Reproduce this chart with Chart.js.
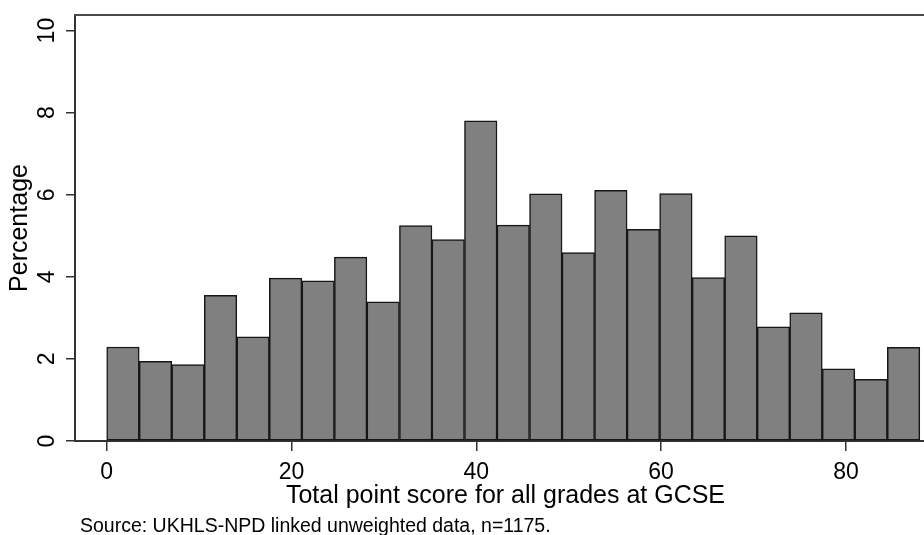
<!DOCTYPE html>
<html>
<head>
<meta charset="utf-8">
<script src="https://cdn.jsdelivr.net/npm/chart.js@4"></script>
<style>
  html, body { margin: 0; padding: 0; background: #fff; overflow: hidden; }
  #wrap { width: 924px; height: 535px; }
</style>
</head>
<body>
<div id="wrap"><canvas id="hist" width="924" height="535"></canvas></div>
<script>
// GCSE total point score distribution, 25 equal-width bins starting at 0
const binStart = 0;
const binWidth = 3.52;
const percentages = [2.29, 1.94, 1.86, 3.55, 2.54, 3.97, 3.90, 4.48, 3.39, 5.25,
                     4.91, 7.80, 5.26, 6.02, 4.59, 6.11, 5.16, 6.03, 3.98, 5.00,
                     2.78, 3.12, 1.76, 1.50, 2.28];
const xTicks = [0, 20, 40, 60, 80];
const yTicks = [0, 2, 4, 6, 8, 10];
const xTitle = 'Total point score for all grades at GCSE';
const yTitle = 'Percentage';
const sourceNote = 'Source: UKHLS-NPD linked unweighted data, n=1175.';

const FONT = 'Liberation Sans, Arial, sans-serif';
const AXIS = '#333';

// bars sit on bin centres of a linear x scale
const points = percentages.map((v, i) => ({ x: binStart + binWidth * (i + 0.5), y: v }));

// frame line along the top, rotated y labels, titles and the note
const decorations = {
  id: 'decorations',
  afterDraw(chart) {
    const ctx = chart.ctx;
    const area = chart.chartArea;
    const y = chart.scales.y;
    ctx.save();

    ctx.strokeStyle = '#4a4a4a';
    ctx.lineWidth = 2;
    ctx.beginPath();
    ctx.moveTo(area.left - 1, area.top);
    ctx.lineTo(area.right, area.top);
    ctx.stroke();

    ctx.fillStyle = '#000';
    ctx.textAlign = 'center';
    ctx.textBaseline = 'alphabetic';

    ctx.font = '23px ' + FONT;
    yTicks.forEach(v => {
      ctx.save();
      ctx.translate(53.5, y.getPixelForValue(v));
      ctx.rotate(-Math.PI / 2);
      ctx.fillText(String(v), 0, 0);
      ctx.restore();
    });

    ctx.save();
    ctx.font = '25px ' + FONT;
    ctx.translate(27, (area.top + area.bottom) / 2);
    ctx.rotate(-Math.PI / 2);
    ctx.fillText(yTitle, 0, 0);
    ctx.restore();

    ctx.font = '25px ' + FONT;
    ctx.fillText(xTitle, 505.5, 503);

    ctx.textAlign = 'left';
    ctx.font = '19.5px ' + FONT;
    ctx.fillText(sourceNote, 80, 532);

    ctx.restore();
  }
};

new Chart(document.getElementById('hist'), {
  type: 'bar',
  data: {
    datasets: [{
      data: points,
      backgroundColor: '#808080',
      borderColor: '#161616',
      borderWidth: 1.5,
      borderSkipped: false,
      barPercentage: 1,
      categoryPercentage: 1
    }]
  },
  options: {
    responsive: false,
    animation: false,
    devicePixelRatio: 1,
    layout: { padding: { top: 15, right: 0, bottom: 0, left: 0 } },
    plugins: {
      legend: { display: false },
      tooltip: { enabled: false }
    },
    scales: {
      x: {
        type: 'linear',
        offset: false,
        min: -3.43,
        max: 88.45,
        afterBuildTicks: s => { s.ticks = xTicks.map(v => ({ value: v })); },
        afterFit: s => { s.height = 94; },
        grid: { offset: false, drawOnChartArea: false, drawTicks: true, tickLength: 10, color: AXIS, lineWidth: 1.5 },
        border: { display: true, color: AXIS, width: 2 },
        ticks: {
          color: '#000',
          font: { family: FONT, size: 23 },
          padding: 8,
          maxRotation: 0,
          autoSkip: false
        }
      },
      y: {
        min: 0,
        max: 10.38,
        afterBuildTicks: s => { s.ticks = yTicks.map(v => ({ value: v })); },
        afterFit: s => { s.width = 75; },
        grid: { drawOnChartArea: false, drawTicks: true, tickLength: 9, color: AXIS, lineWidth: 1.5 },
        border: { display: true, color: AXIS, width: 2 },
        ticks: { display: false }
      }
    }
  },
  plugins: [decorations]
});
</script>
</body>
</html>
